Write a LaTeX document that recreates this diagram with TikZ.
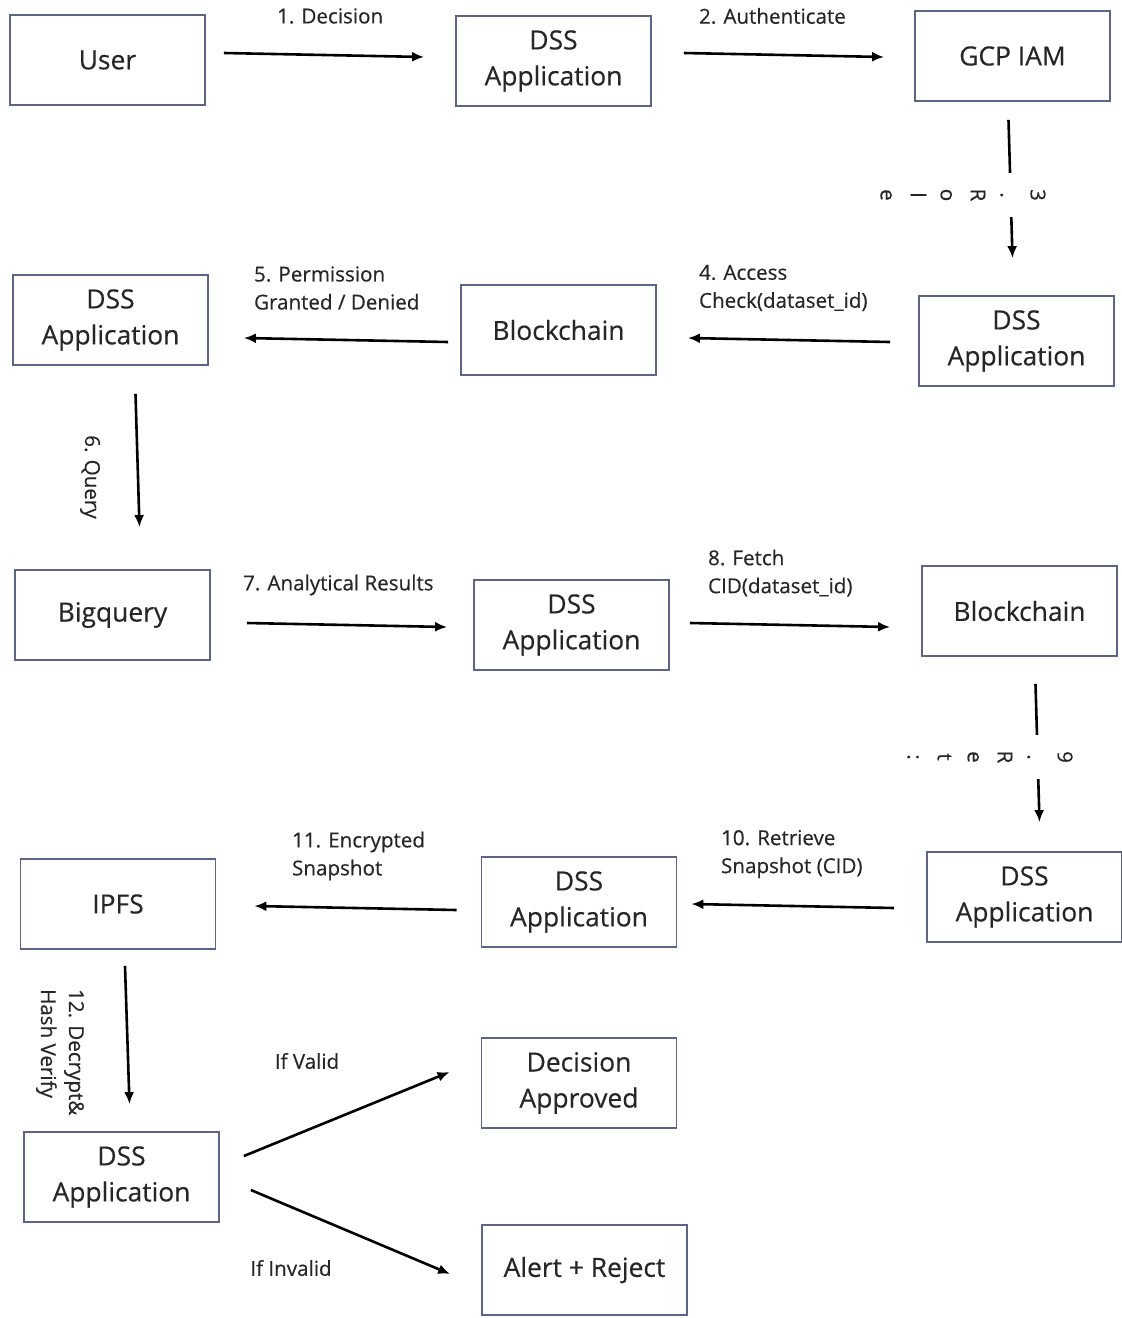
\documentclass[tikz,border=0pt]{standalone}
\usepackage{fontspec}
\setmainfont{Open Sans}[UprightFeatures={FakeBold=0.4}]
\usetikzlibrary{arrows.meta}
\definecolor{boxline}{RGB}{92,102,132}
\definecolor{ink}{RGB}{38,38,38}

\begin{document}
\begin{tikzpicture}[x=0.5pt,y=-0.5pt,>={Latex[length=6pt,width=5pt]},
    box/.style={draw=boxline, line width=0.9pt, minimum width=97.5pt, minimum height=45pt,
      align=center, text=ink, font=\fontsize{13.2}{18}\selectfont},
    lbl/.style={text=ink, align=left, font=\fontsize{10.3}{14}\selectfont},
    vlbl/.style={text=ink, align=center, fill=white, rotate=-90, inner xsep=8pt, inner ysep=1pt,
      font=\fontsize{10.3}{15}\selectfont},
    flow/.style={->, line width=1.3pt}]
    \useasboundingbox (0,0) rectangle (1121,1318);

    % boxes
    \node[box] (user) at (107.5,60) {User};
    \node[box] (dssa) at (553.5,61) {DSS\\Application};
    \node[box] (iam) at (1012.5,56) {GCP IAM};
    \node[box] (dssb) at (1016.5,341) {DSS\\Application};
    \node[box] (chaina) at (558.5,330) {Blockchain};
    \node[box] (dssc) at (110.5,320) {DSS\\Application};
    \node[box] (bigq) at (112.5,615) {Bigquery};
    \node[box] (dssd) at (571.5,625) {DSS\\Application};
    \node[box] (chainb) at (1019.5,611) {Blockchain};
    \node[box] (dsse) at (1024.5,897) {DSS\\Application};
    \node[box] (dssf) at (579,902) {DSS\\Application};
    \node[box] (ipfs) at (118,904) {IPFS};
    \node[box] (dssg) at (121.5,1177) {DSS\\Application};
    \node[box] (approved) at (579,1083) {Decision\\Approved};
    \node[box, minimum width=102.5pt] (reject) at (584.5,1270) {Alert + Reject};

    % connectors
    \draw[flow] ([shift={(9pt,3.5pt)}]user.east) -- ([shift={(-15.5pt,2pt)}]dssa.west);
    \draw[flow] ([shift={(16pt,4pt)}]dssa.east) -- ([shift={(-15pt,-0.5pt)}]iam.west);
    \draw[flow] ([shift={(-2pt,-9pt)}]iam.south) -- ([shift={(-2pt,18.5pt)}]dssb.north);
    \draw[flow] ([shift={(-14pt,-0.5pt)}]dssb.west) -- ([shift={(15.5pt,-4pt)}]chaina.east);
    \draw[flow] ([shift={(-6pt,-6pt)}]chaina.west) -- ([shift={(17.5pt,-9pt)}]dssc.east);
    \draw[flow] ([shift={(12.5pt,-14pt)}]dssc.south) -- ([shift={(13.5pt,21pt)}]bigq.north);
    \draw[flow] ([shift={(18pt,-4pt)}]bigq.east) -- ([shift={(-13pt,-1pt)}]dssd.west);
    \draw[flow] ([shift={(10pt,1pt)}]dssd.east) -- ([shift={(-15.5pt,-8pt)}]chainb.west);
    \draw[flow] ([shift={(8pt,-13.5pt)}]chainb.south) -- ([shift={(7.5pt,14.5pt)}]dsse.north);
    \draw[flow] ([shift={(-16pt,-5.5pt)}]dsse.west) -- ([shift={(7pt,-1pt)}]dssf.east);
    \draw[flow] ([shift={(-12pt,-4pt)}]dssf.west) -- ([shift={(19pt,-1pt)}]ipfs.east);
    \draw[flow] ([shift={(3.5pt,-8pt)}]ipfs.south) -- ([shift={(4pt,13.5pt)}]dssg.north);
    \draw[flow] ([shift={(12pt,10.5pt)}]dssg.east) -- ([shift={(-15.5pt,5.5pt)}]approved.west);
    \draw[flow] ([shift={(15.5pt,-6.5pt)}]dssg.east) -- ([shift={(-15.5pt,-2pt)}]reject.west);

    % labels
    \node[lbl, anchor=west] (decision) at (270,16) {1. Decision};
    \node[lbl, anchor=west] (auth) at (692,16) {2. Authenticate};
    \node[vlbl] (role) at (963,195) {3\\.\\R\\o\\l\\e};
    \node[lbl, anchor=west] (access) at (692,288) {4. Access\\Check(dataset\_id)};
    \node[lbl, anchor=west] (permission) at (247,288) {5. Permission\\Granted / Denied};
    \node[lbl, rotate=-90] (query) at (90,477) {6. Query};
    \node[lbl, anchor=west] (results) at (236,585) {7. Analytical Results};
    \node[lbl, anchor=west] (fetch) at (701,573) {8. Fetch\\CID(dataset\_id)};
    \node[vlbl] (ret) at (990,757) {9\\.\\R\\e\\t\\:};
    \node[lbl, anchor=west] (retrieve) at (714,854) {10. Retrieve\\Snapshot (CID)};
    \node[lbl, anchor=west] (encrypted) at (285,856) {11. Encrypted\\Snapshot};
    \node[lbl, rotate=-90, anchor=west] (verify) at (60,982) {12. Decrypt\&\\Hash Verify};
    \node[lbl] (valid) at (307,1061) {If Valid};
    \node[lbl] (invalid) at (291,1268) {If Invalid};
  \end{tikzpicture}
\end{document}
